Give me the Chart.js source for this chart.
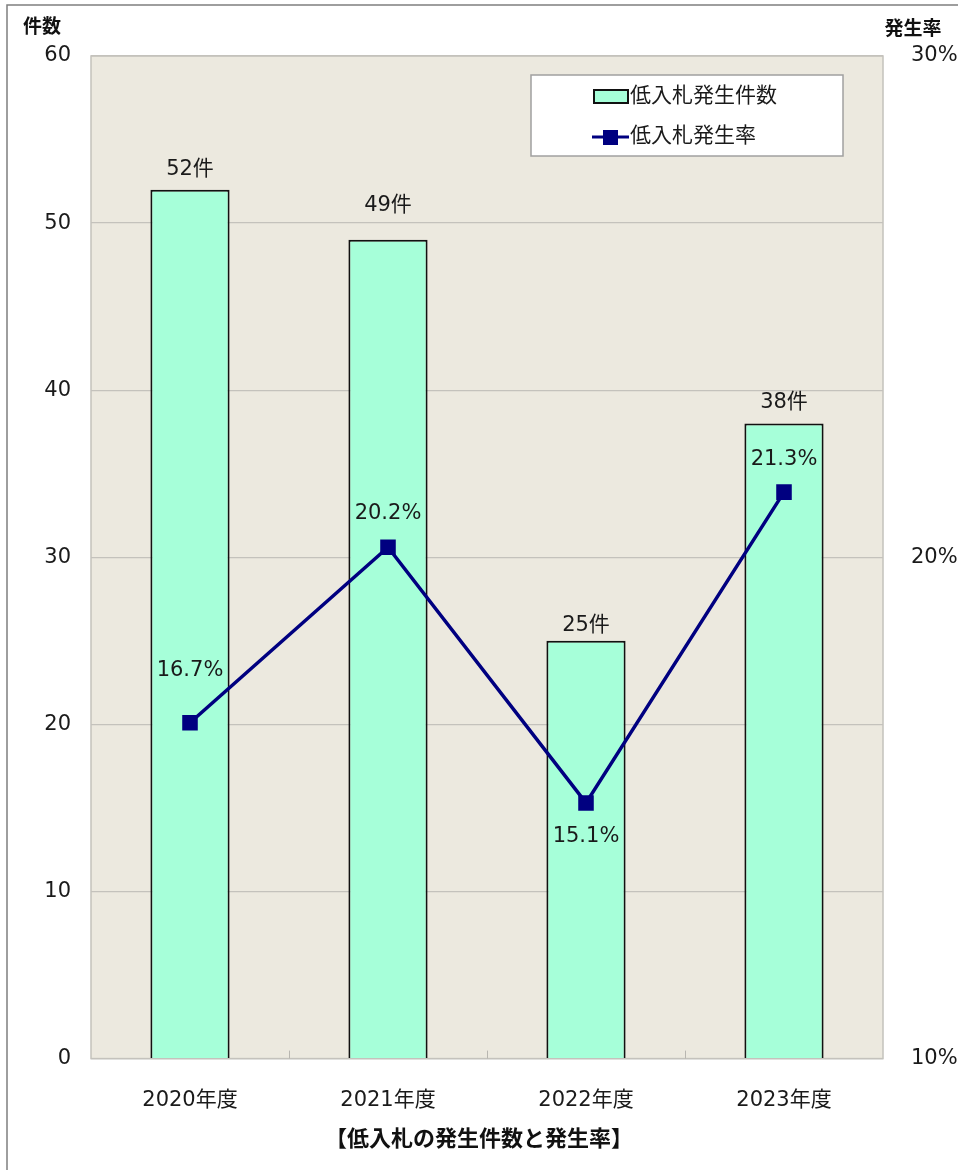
<!DOCTYPE html>
<html>
<head>
<meta charset="utf-8">
<script src="https://cdn.jsdelivr.net/npm/chart.js@4.4.1/dist/chart.umd.min.js"></script>
<style>
   body { margin: 0; background: #fff; }
   #wrap { width: 958px; height: 1170px; position: relative; }
</style>
</head>
<body>
<div id="wrap"><canvas id="lowBidChart"></canvas></div>
<script>
const years = ['2020年度', '2021年度', '2022年度', '2023年度'];
const bidCounts = [52, 49, 25, 38];
const bidRates = [16.7, 20.2, 15.1, 21.3];
const countTicks = [0, 10, 20, 30, 40, 50, 60];
const rateTicks = [10, 20, 30];

const FONT = "'DejaVu Sans', 'Noto Sans CJK JP', sans-serif";
const barLabelOffset = [-20, -34, -15, -21];
const rateLabelOffset = [-52, -34, 34, -33];

const chartDecor = {
   id: 'chartDecor',
   beforeDraw(chart) {
      const c = chart.ctx, a = chart.chartArea;
      c.save();
      // outer frame (top and left edges)
      c.strokeStyle = '#7f7f7f';
      c.lineWidth = 1.5;
      c.beginPath();
      c.moveTo(7, 1170);
      c.lineTo(7, 5);
      c.lineTo(958, 5);
      c.stroke();
      // plot background
      c.fillStyle = '#ece9df';
      c.fillRect(a.left, a.top, a.right - a.left, a.bottom - a.top);
      c.restore();
   },
   beforeDatasetsDraw(chart) {
      const c = chart.ctx, a = chart.chartArea, x = chart.scales.x;
      c.save();
      c.strokeStyle = '#c4c2bc';
      c.lineWidth = 1.5;
      c.strokeRect(a.left, a.top, a.right - a.left, a.bottom - a.top);
      // small inward ticks between categories
      c.strokeStyle = '#b8b6b0';
      c.lineWidth = 1;
      for (let i = 1; i < years.length; i++) {
         const px = (x.getPixelForValue(i - 1) + x.getPixelForValue(i)) / 2;
         c.beginPath();
         c.moveTo(px + 0.5, a.bottom);
         c.lineTo(px + 0.5, a.bottom - 8);
         c.stroke();
      }
      c.restore();
   },
   afterDatasetsDraw(chart) {
      const c = chart.ctx;
      c.save();
      c.font = '21px ' + FONT;
      c.fillStyle = '#1a1a1a';
      c.textAlign = 'center';
      c.textBaseline = 'middle';
      const barMeta = chart.getDatasetMeta(1);
      barMeta.data.forEach((el, i) => {
         c.fillText(bidCounts[i] + '件', el.x, el.y + barLabelOffset[i]);
      });
      const lineMeta = chart.getDatasetMeta(0);
      lineMeta.data.forEach((el, i) => {
         c.fillText(bidRates[i].toFixed(1) + '%', el.x, el.y + rateLabelOffset[i]);
      });
      // axis titles
      c.font = 'bold 19px ' + FONT;
      c.fillStyle = '#111';
      c.fillText('件数', 42, 28);
      c.fillText('発生率', 913, 30);
      // legend
      const lx = 531, ly = 75, lw = 312, lh = 81;
      c.fillStyle = '#fff';
      c.fillRect(lx, ly, lw, lh);
      c.strokeStyle = '#a0a0a0';
      c.lineWidth = 1.5;
      c.strokeRect(lx, ly, lw, lh);
      c.fillStyle = '#a6ffd9';
      c.fillRect(594, 90, 34, 13);
      c.strokeStyle = '#111';
      c.lineWidth = 2;
      c.strokeRect(594, 90, 34, 13);
      c.strokeStyle = '#000080';
      c.lineWidth = 3;
      c.beginPath();
      c.moveTo(592, 137);
      c.lineTo(629, 137);
      c.stroke();
      c.fillStyle = '#000080';
      c.fillRect(603, 130, 15, 15);
      c.font = '21px ' + FONT;
      c.fillStyle = '#1a1a1a';
      c.textAlign = 'left';
      c.fillText('低入札発生件数', 630, 97);
      c.fillText('低入札発生率', 630, 137);
      c.restore();
   }
};

const ctx = document.getElementById('lowBidChart').getContext('2d');
const lowBidChart = new Chart(ctx, {
   type: 'bar',
   data: {
      labels: years,
      datasets: [
         {
            type: 'line',
            label: '低入札発生率',
            data: bidRates,
            yAxisID: 'y1',
            borderColor: '#000080',
            backgroundColor: '#000080',
            borderWidth: 3.5,
            pointStyle: 'rect',
            pointRadius: 11,
            pointHoverRadius: 11,
            pointBorderWidth: 0,
            tension: 0,
            fill: false,
            order: 0
         },
         {
            type: 'bar',
            label: '低入札発生件数',
            data: bidCounts,
            yAxisID: 'y',
            backgroundColor: '#a6ffd9',
            borderColor: '#111',
            borderWidth: { top: 2, left: 2, right: 2, bottom: 0 },
            borderSkipped: false,
            barPercentage: 0.4,
            categoryPercentage: 1,
            order: 1
         }
      ]
   },
   options: {
      responsive: true,
      maintainAspectRatio: false,
      animation: false,
      devicePixelRatio: 1,
      layout: { padding: { top: 56, left: 0, right: 0, bottom: 0 } },
      plugins: {
         legend: { display: false },
         tooltip: { enabled: false },
         title: {
            display: true,
            position: 'bottom',
            text: '【低入札の発生件数と発生率】',
            color: '#111',
            font: { family: FONT, size: 22, weight: 'bold' },
            padding: { top: 8, bottom: 17 }
         }
      },
      scales: {
         x: {
            grid: { display: false },
            border: { display: false },
            ticks: { color: '#1a1a1a', font: { family: FONT, size: 21 }, padding: 21 },
            afterFit(scale) { scale.height = 60; }
         },
         y: {
            position: 'left',
            min: 0,
            max: 60,
            afterBuildTicks(scale) { scale.ticks = countTicks.map(v => ({ value: v })); },
            grid: { color: '#c4c2bc', lineWidth: 1.2, drawTicks: false },
            border: { display: false },
            ticks: { color: '#1a1a1a', font: { family: FONT, size: 21 }, padding: 20 },
            afterFit(scale) { scale.width = 91; }
         },
         y1: {
            position: 'right',
            min: 10,
            max: 30,
            afterBuildTicks(scale) { scale.ticks = rateTicks.map(v => ({ value: v })); },
            grid: { display: false, drawOnChartArea: false },
            border: { display: false },
            ticks: { color: '#1a1a1a', font: { family: FONT, size: 21 }, padding: 20, callback: v => v + '%' },
            afterFit(scale) { scale.width = 75; }
         }
      }
   },
   plugins: [chartDecor]
});
</script>
</body>
</html>
